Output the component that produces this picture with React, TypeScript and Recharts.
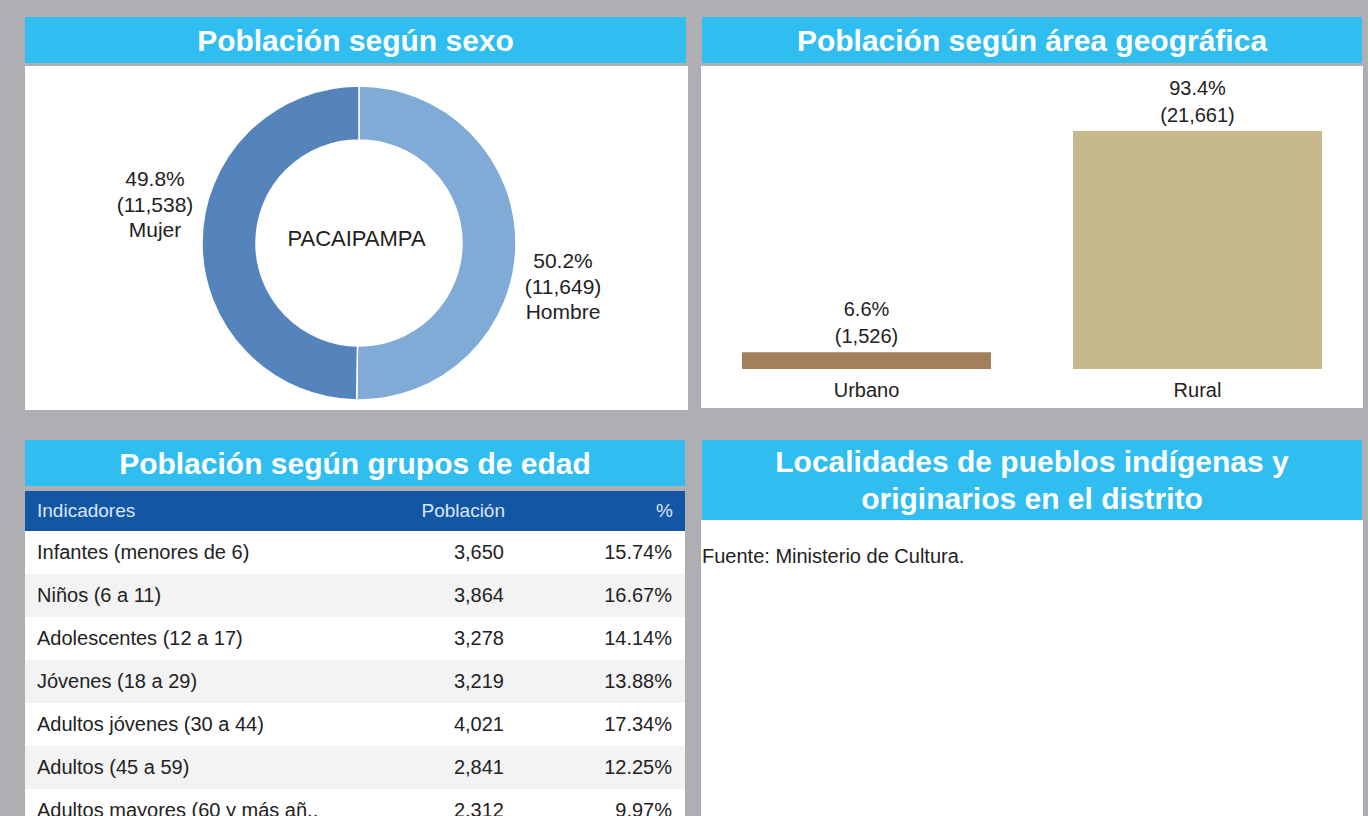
import { PieChart, Pie, Cell, Label, BarChart, Bar, XAxis, YAxis, LabelList } from 'recharts'

const sexNames = ['Hombre', 'Mujer']
const sexValues = [11649, 11538]
const sexColors = ['#80abd6', '#5584bd']

const areaNames = ['Urbano', 'Rural']
const areaValues = [1526, 21661]
const areaColors = ['#a2805b', '#c5b88b']

const ageGroups = [
  'Infantes (menores de 6)',
  'Niños (6 a 11)',
  'Adolescentes (12 a 17)',
  'Jóvenes (18 a 29)',
  'Adultos jóvenes (30 a 44)',
  'Adultos (45 a 59)',
  'Adultos mayores (60 y más añ..',
]
const agePopulation = ['3,650', '3,864', '3,278', '3,219', '4,021', '2,841', '2,312']
const agePercent = ['15.74%', '16.67%', '14.14%', '13.88%', '17.34%', '12.25%', '9.97%']

const FONT = '"Liberation Sans", Arial, Helvetica, sans-serif'
const CYAN = '#30bdf0'
const BG = '#afafb3'

const fmt = (n: number) => n.toLocaleString('en-US')

function Header({ left, top, width, height, lines }: { left: number; top: number; width: number; height: number; lines: string[] }) {
  return (
    <div
      style={{
        position: 'absolute',
        left,
        top,
        width,
        height,
        background: CYAN,
        color: '#fff',
        fontWeight: 'bold',
        fontSize: 30,
        lineHeight: '37px',
        textAlign: 'center',
        display: 'flex',
        flexDirection: 'column',
        justifyContent: 'center',
      }}
    >
      {lines.map((l) => (
        <div key={l}>{l}</div>
      ))}
    </div>
  )
}

export default function App() {
  const sexData = sexNames.map((name, i) => ({ name, value: sexValues[i] }))
  const sexTotal = sexValues.reduce((a, b) => a + b, 0)
  const areaData = areaNames.map((name, i) => ({ name, value: areaValues[i] }))
  const areaTotal = areaValues.reduce((a, b) => a + b, 0)

  const RAD = Math.PI / 180
  const renderPieLabel = (props: any) => {
    const { cx, cy, midAngle, outerRadius, index } = props
    const cos = Math.cos(-midAngle * RAD)
    const x = cx + (outerRadius + 47) * cos
    // right-hand label sits below centre, left-hand label above
    const y0 = cos > 0 ? cy + 25 : cy - 57
    const v = sexValues[index]
    const pct = ((v / sexTotal) * 100).toFixed(1) + '%'
    return (
      <text x={x} y={y0} textAnchor="middle" fill="#222" fontSize={21} fontFamily={FONT}>
        <tspan x={x} dy={0}>{pct}</tspan>
        <tspan x={x} dy={26}>({fmt(v)})</tspan>
        <tspan x={x} dy={25}>{sexNames[index]}</tspan>
      </text>
    )
  }

  const renderBarLabel = (props: any) => {
    const { x, y, width, index } = props
    const v = areaValues[index]
    const pct = ((v / areaTotal) * 100).toFixed(1) + '%'
    const mx = x + width / 2
    return (
      <text x={mx} y={y - 36} textAnchor="middle" fill="#222" fontSize={20} fontFamily={FONT}>
        <tspan x={mx} dy={0}>{pct}</tspan>
        <tspan x={mx} dy={27}>({fmt(v)})</tspan>
      </text>
    )
  }

  return (
    <div style={{ position: 'absolute', left: 0, top: 0, width: 1368, height: 816, background: BG, overflow: 'hidden', fontFamily: FONT }}>
      {/* Población según sexo */}
      <Header left={25} top={17} width={661} height={46} lines={['Población según sexo']} />
      <div style={{ position: 'absolute', left: 25, top: 66, width: 663, height: 344, background: '#fff' }}>
        <PieChart width={663} height={344}>
          <Pie
            data={sexData}
            dataKey="value"
            nameKey="name"
            cx={329}
            cy={172}
            innerRadius={103}
            outerRadius={157}
            startAngle={90}
            endAngle={-270}
            stroke="#fff"
            strokeWidth={1.5}
            label={renderPieLabel}
            labelLine={false}
            isAnimationActive={false}
          >
            {sexData.map((_, i) => (
              <Cell key={i} fill={sexColors[i]} />
            ))}
            <Label value="PACAIPAMPA" position="center" fill="#222" fontSize={22} fontFamily={FONT} />
          </Pie>
        </PieChart>
      </div>

      {/* Población según área geográfica */}
      <Header left={702} top={17} width={660} height={46} lines={['Población según área geográfica']} />
      <div style={{ position: 'absolute', left: 701, top: 66, width: 662, height: 342, background: '#fff' }}>
        <BarChart width={662} height={342} data={areaData} margin={{ top: 65, right: 0, bottom: 0, left: 0 }}>
          <XAxis
            dataKey="name"
            axisLine={false}
            tickLine={false}
            height={39}
            tickMargin={8}
            interval={0}
            tick={{ fontSize: 20, fill: '#222', fontFamily: FONT }}
          />
          <YAxis hide domain={[0, 21661]} />
          <Bar dataKey="value" barSize={249} isAnimationActive={false}>
            {areaData.map((_, i) => (
              <Cell key={i} fill={areaColors[i]} />
            ))}
            <LabelList dataKey="value" content={renderBarLabel} />
          </Bar>
        </BarChart>
      </div>

      {/* Población según grupos de edad */}
      <Header left={25} top={440} width={660} height={46} lines={['Población según grupos de edad']} />
      <div style={{ position: 'absolute', left: 25, top: 491, width: 660, height: 40, background: '#1456a6', color: '#dbe6f4', fontSize: 19 }}>
        <span style={{ position: 'absolute', left: 12, top: 9 }}>Indicadores</span>
        <span style={{ position: 'absolute', right: 180, top: 9 }}>Población</span>
        <span style={{ position: 'absolute', right: 12, top: 9 }}>%</span>
      </div>
      {ageGroups.map((g, i) => (
        <div
          key={g}
          style={{
            position: 'absolute',
            left: 25,
            top: 531 + i * 43,
            width: 660,
            height: 43,
            background: i % 2 === 1 ? '#f3f3f3' : '#fff',
            color: '#222',
            fontSize: 20,
          }}
        >
          <span style={{ position: 'absolute', left: 12, top: 10 }}>{g}</span>
          <span style={{ position: 'absolute', right: 181, top: 10 }}>{agePopulation[i]}</span>
          <span style={{ position: 'absolute', right: 13, top: 10 }}>{agePercent[i]}</span>
        </div>
      ))}

      {/* Localidades de pueblos indígenas */}
      <Header left={702} top={440} width={660} height={80} lines={['Localidades de pueblos indígenas y', 'originarios en el distrito']} />
      <div style={{ position: 'absolute', left: 701, top: 520, width: 662, height: 300, background: '#fff' }}>
        <span style={{ position: 'absolute', left: 1, top: 25, fontSize: 20, color: '#222' }}>Fuente: Ministerio de Cultura.</span>
      </div>
    </div>
  )
}
